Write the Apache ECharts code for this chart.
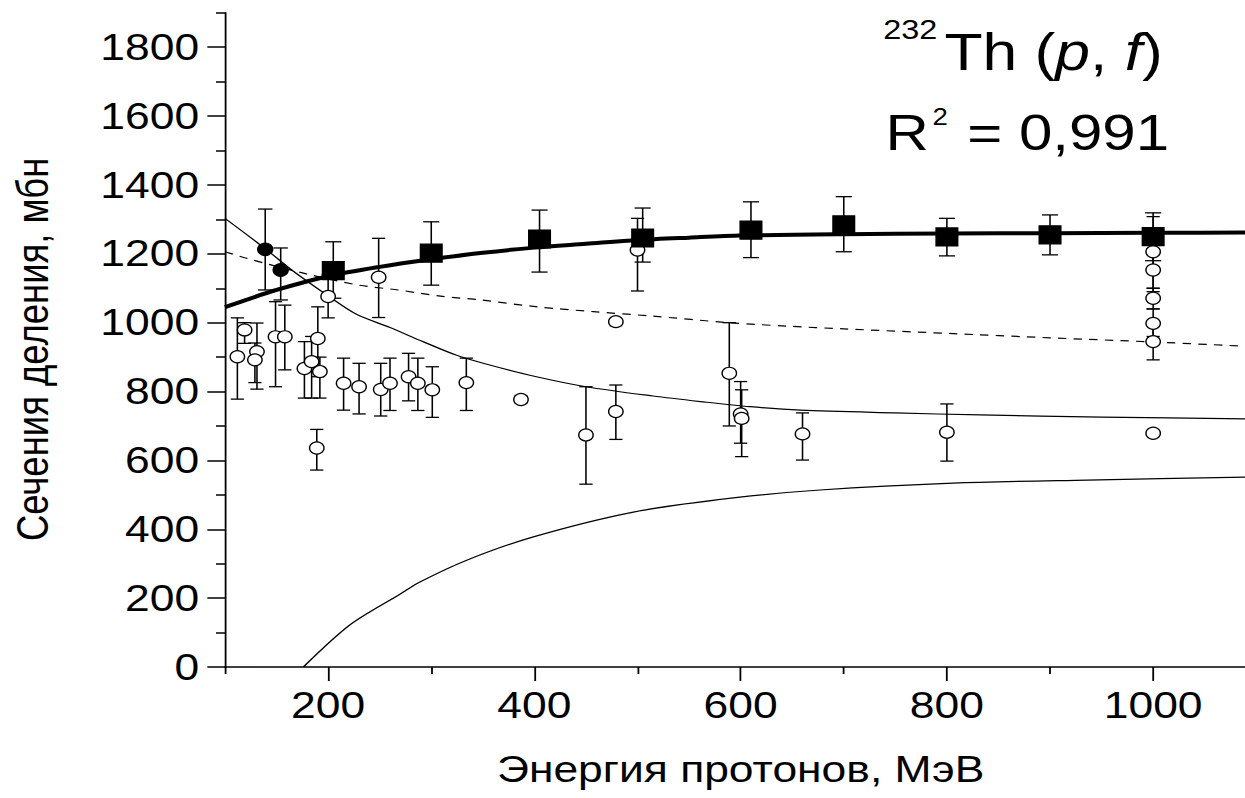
<!DOCTYPE html>
<html>
<head>
<meta charset="utf-8">
<script src="https://cdn.jsdelivr.net/npm/echarts@6/dist/echarts.min.js"></script>
<style>
  html, body { margin: 0; padding: 0; background: #fff; overflow: hidden; }
  /* the source figure is stretched sideways: lay out narrower, then widen */
  #chart { width: 1038px; height: 798px; transform: scaleX(1.2); transform-origin: 0 0; }
</style>
</head>
<body>
<div id="chart"></div>
<script>
const FONT = '"Liberation Sans", Arial, sans-serif';

const xMajorTicks = [200, 400, 600, 800, 1000];
const xMinorTicks = [100, 300, 500, 700, 900, 1100];
const yMajorTicks = [0, 200, 400, 600, 800, 1000, 1200, 1400, 1600, 1800];
const yMinorTicks = [100, 300, 500, 700, 900, 1100, 1300, 1500, 1700, 1900];

// [energy, sigma, low, high]
const squarePoints = [
    [205, 1151, 1071, 1235], [300, 1202, 1109, 1293], [405, 1243, 1147, 1327],
    [505, 1246, 1176, 1333], [610, 1269, 1189, 1351], [700, 1284, 1206, 1366],
    [800, 1249, 1194, 1303], [900, 1255, 1197, 1313], [1000, 1250, 1180, 1319]
];
const filledCirclePoints = [
    [139, 1213, 1095, 1330], [154, 1153, 1066, 1217]
];
const openCirclePoints = [
    [112, 901, 778, 1014], [119, 979, 940, 1000], [131, 916, 807, 999], [129, 892, 826, 941],
    [149, 959, 814, 1061], [158, 959, 863, 1051], [177, 867, 781, 945], [190, 954, 843, 1046],
    [184, 887, 781, 960], [192, 858, 781, 900], [189, 636, 572, 690], [215, 824, 746, 897],
    [230, 814, 735, 882], [251, 806, 729, 882], [260, 824, 745, 897], [278, 843, 773, 911],
    [287, 824, 745, 897], [301, 805, 725, 872], [334, 826, 745, 897], [200, 1076, 1014, 1140],
    [249, 1132, 1015, 1245], [387, 777, 767, 787], [450, 674, 531, 814], [479, 742, 661, 819],
    [479, 1003, null, null], [500, 1211, 1092, 1303], [589, 853, 700, 1000], [600, 735, 650, 829],
    [601, 722, 611, 805], [660, 677, 601, 738], [800, 682, 598, 764], [1000, 679, null, null],
    [1000, 1206, 1100, 1308], [1000, 1153, 1090, 1215], [1000, 1071, 1040, 1100],
    [1000, 998, 960, 1040], [1000, 945, 892, 998]
];

// fitted / model curves [energy, sigma]
const fitCurve = [
    [100, 1045], [150, 1095], [200, 1135], [250, 1162], [300, 1184], [350, 1203], [400, 1218],
    [450, 1229], [500, 1240], [550, 1247], [600, 1253], [700, 1257], [800, 1259], [900, 1260],
    [1000, 1261], [1100, 1262]
];
const fallingCurve = [
    [100, 1303], [139, 1215], [166, 1150], [198, 1082], [227, 1025], [260, 986], [292, 945],
    [324, 906], [353, 880], [402, 843], [450, 814], [515, 787], [561, 771], [609, 756],
    [658, 746], [750, 738], [832, 732], [950, 726], [1100, 720]
];
const dashedCurve = [
    [100, 1206], [121, 1187], [177, 1143], [230, 1109], [268, 1095], [309, 1077], [348, 1066],
    [403, 1046], [457, 1032], [515, 1019], [589, 1000], [645, 990], [700, 982], [800, 969],
    [900, 956], [1000, 944], [1100, 930]
];
const risingCurve = [
    [176, 0], [221, 122], [270, 212], [289, 247], [335, 311], [399, 378], [496, 450],
    [593, 491], [677, 514], [806, 534], [936, 543], [1100, 552]
];

const axisText = { color: '#000', fontFamily: FONT, fontSize: 37 };
const plainNumber = v => String(v);

const errorBars = (points, capHalf) => ({
    type: 'custom',
    z: 3,
    silent: true,
    data: points.filter(p => p[2] != null),
    encode: { x: 0, y: [2, 3] },
    renderItem: (params, api) => {
        const x = api.value(0);
        const lo = api.coord([x, api.value(2)]);
        const hi = api.coord([x, api.value(3)]);
        const style = { stroke: '#000', lineWidth: 1.3 };
        return {
            type: 'group',
            children: [
                { type: 'line', shape: { x1: lo[0], y1: lo[1], x2: hi[0], y2: hi[1] }, style },
                { type: 'line', shape: { x1: lo[0] - capHalf, y1: lo[1], x2: lo[0] + capHalf, y2: lo[1] }, style },
                { type: 'line', shape: { x1: hi[0] - capHalf, y1: hi[1], x2: hi[0] + capHalf, y2: hi[1] }, style }
            ]
        };
    }
});

const curve = (data, width, type) => ({
    type: 'line',
    z: 2,
    data,
    showSymbol: false,
    smooth: 0.3,
    lineStyle: { color: '#000', width, type: type || 'solid', join: 'round' }
});

const markers = (points, symbol, size, fill) => ({
    type: 'scatter',
    z: 4,
    data: points.map(p => [p[0], p[1]]),
    symbol,
    symbolSize: size,
    itemStyle: { color: fill, borderColor: '#000', borderWidth: 1.2, opacity: 1 }
});

const textStyle = (text, size, extra) => Object.assign({
    text, font: size + 'px ' + FONT, fill: '#000',
    align: 'left', verticalAlign: 'middle', textAlign: 'left', textVerticalAlign: 'middle'
}, extra || {});

const chart = echarts.init(document.getElementById('chart'), null, { renderer: 'svg' });

chart.setOption({
    animation: false,
    backgroundColor: '#fff',
    grid: { left: 187.5, top: 12.8, width: 859.4, height: 654.2, containLabel: false, outerBoundsMode: 'none' },
    xAxis: [
        {
            type: 'value', min: 100, max: 1100, position: 'bottom',
            axisLine: { show: true, onZero: false, lineStyle: { color: '#000', width: 1.6 } },
            axisTick: { show: true, customValues: xMajorTicks, length: 14, lineStyle: { color: '#000', width: 1.5 } },
            axisLabel: { customValues: xMajorTicks, margin: 20, formatter: plainNumber, ...axisText },
            splitLine: { show: false },
            name: 'Энергия протонов, МэВ',
            nameLocation: 'middle',
            nameGap: 83.5,
            nameTextStyle: { ...axisText }
        },
        {
            type: 'value', min: 100, max: 1100, position: 'bottom',
            axisLine: { show: false },
            axisTick: { show: true, customValues: xMinorTicks, length: 7, lineStyle: { color: '#000', width: 1.5 } },
            axisLabel: { show: false },
            splitLine: { show: false }
        }
    ],
    yAxis: [
        {
            type: 'value', min: 0, max: 1900, position: 'left',
            axisLine: { show: true, onZero: false, lineStyle: { color: '#000', width: 1.5 } },
            axisTick: { show: true, customValues: yMajorTicks, length: 14.7, lineStyle: { color: '#000', width: 1.5 } },
            axisLabel: { customValues: yMajorTicks, margin: 21.6, padding: [0, 0, 8, 0], formatter: plainNumber, ...axisText },
            splitLine: { show: false },
            name: 'Сечения деления, мбн',
            nameLocation: 'middle',
            nameGap: 141,
            nameTextStyle: { ...axisText, fontSize: 36.5, padding: [0, 19, 0, 0] }
        },
        {
            type: 'value', min: 0, max: 1900, position: 'left',
            axisLine: { show: false },
            axisTick: { show: true, customValues: yMinorTicks, length: 7.5, lineStyle: { color: '#000', width: 1.5 } },
            axisLabel: { show: false },
            splitLine: { show: false }
        }
    ],
    series: [
        curve(fitCurve, 4),
        curve(fallingCurve, 1.2),
        curve(dashedCurve, 1.2, [7, 6]),
        curve(risingCurve, 1.2),
        errorBars(openCirclePoints, 5.5),
        errorBars(filledCirclePoints, 6),
        errorBars(squarePoints, 6.7),
        markers(openCirclePoints, 'circle', 12, '#fff'),
        markers(filledCirclePoints, 'circle', 12.5, '#000'),
        markers(squarePoints, 'rect', 18, '#000')
    ],
    graphic: [
        { type: 'text', x: 736, y: 29.5, z: 10, style: textStyle('232', 27) },
        {
            type: 'text', x: 787, y: 51.8, z: 10,
            style: textStyle('{n|Th (}{i|p}{n|, }{i|f}{n|)}', 52, {
                rich: {
                    n: { fontFamily: FONT, fontSize: 52, fill: '#000', color: '#000' },
                    i: { fontFamily: FONT, fontSize: 52, fontStyle: 'italic', fill: '#000', color: '#000' }
                }
            })
        },
        { type: 'text', x: 738, y: 132.5, z: 10, style: textStyle('R', 50) },
        { type: 'text', x: 777, y: 116.5, z: 10, style: textStyle('2', 23) },
        { type: 'text', x: 806, y: 132.5, z: 10, style: textStyle('= 0,991', 50) }
    ]
});
</script>
</body>
</html>
